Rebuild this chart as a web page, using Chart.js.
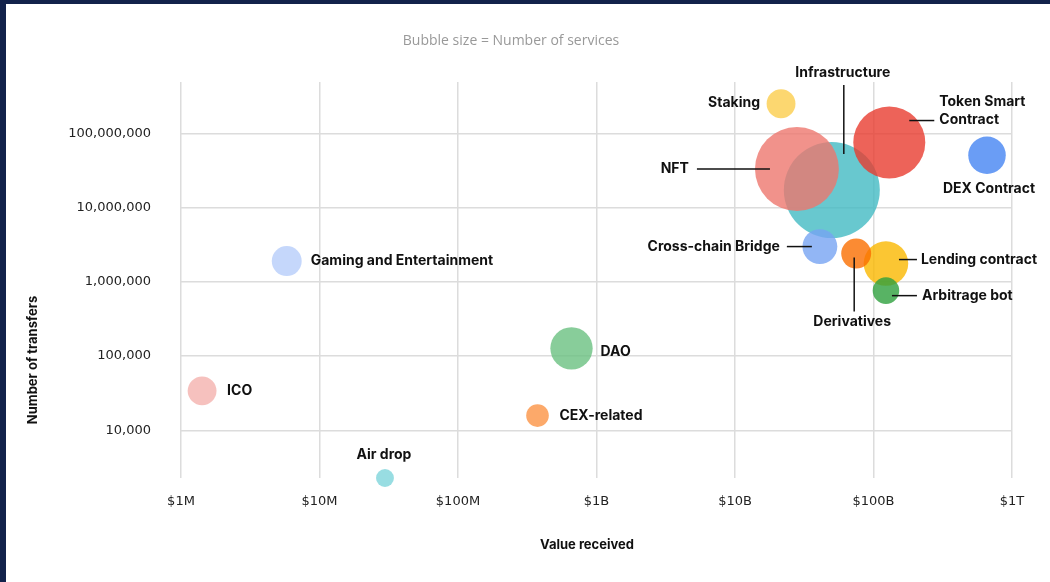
<!DOCTYPE html>
<html>
<head>
<meta charset="utf-8">
<script src="https://cdn.jsdelivr.net/npm/chart.js@4"></script>
<style>
  html, body { margin: 0; padding: 0; background: #fff; }
  .wrap { position: relative; width: 1050px; height: 582px; overflow: hidden; }
  .bar-top { position: absolute; left: 0; top: 0; width: 1050px; height: 4px; background: #12224b; }
  .bar-left { position: absolute; left: 0; top: 0; width: 6px; height: 582px; background: #12224b; }
  canvas { position: absolute; left: 0; top: 0; }
</style>
</head>
<body>
<div class="wrap">
  <canvas id="chart" width="1050" height="582"></canvas>
  <div class="bar-top"></div>
  <div class="bar-left"></div>
</div>
<script>
// categories and values
const categories = ['Infrastructure', 'NFT', 'Token Smart Contract', 'Staking', 'DEX Contract',
  'Cross-chain Bridge', 'Lending contract', 'Derivatives', 'Arbitrage bot',
  'Gaming and Entertainment', 'DAO', 'ICO', 'CEX-related', 'Air drop'];
const valueReceived = [5.0e10, 2.8e10, 1.3e11, 2.15e10, 6.6e11, 4.1e10, 1.23e11, 7.5e10, 1.23e11,
  5.8e6, 6.6e8, 1.42e6, 3.75e8, 2.97e7];
const transfers = [1.72e7, 3.3e7, 7.5e7, 2.5e8, 5.06e7, 2.98e6, 1.76e6, 2.4e6, 7.6e5,
  1.9e6, 1.27e5, 3.4e4, 1.58e4, 2280];
const services = [144, 110, 81, 13, 22, 19, 31, 14, 11, 14, 28, 13, 8, 5];

const xTickValues = [1e6, 1e7, 1e8, 1e9, 1e10, 1e11, 1e12];
const xTickLabels = ['$1M', '$10M', '$100M', '$1B', '$10B', '$100B', '$1T'];
const yTickValues = [1e4, 1e5, 1e6, 1e7, 1e8];
const yTickLabels = ['10,000', '100,000', '1,000,000', '10,000,000', '100,000,000'];

const colors = [
  'rgba(66,186,195,0.8)', 'rgba(238,119,110,0.8)', 'rgba(232,60,48,0.8)', 'rgba(251,205,76,0.8)',
  'rgba(69,133,243,0.8)', 'rgba(119,164,243,0.8)', 'rgba(250,184,0,0.8)', 'rgba(250,110,0,0.8)',
  'rgba(46,160,61,0.8)', 'rgba(183,205,250,0.8)', 'rgba(106,193,129,0.8)', 'rgba(244,177,174,0.8)',
  'rgba(251,148,69,0.8)', 'rgba(126,212,219,0.8)'
];

// label placement relative to bubble centre: [dx, dy, align, leader line or null]
const labelLayout = [
  [11, -117, 'center', [12, -105, 12, -36]],
  [-108, 0, 'right', [-100, 0, -27, 0]],
  [50, -32, 'left', [20, -22, 45, -22]],
  [-21, -1, 'right', null],
  [2, 34, 'center', null],
  [-40, 0, 'right', [-33, 0, -8, 0]],
  [35, -4, 'left', [13, -4, 31, -4]],
  [-4, 68, 'center', [-2, 4, -2, 58]],
  [36, 5, 'left', [6, 5, 31, 5]],
  [24, 0, 'left', null],
  [29, 3, 'left', null],
  [25, 0, 'left', null],
  [22, 0, 'left', null],
  [-1, -23, 'center', null]
];

const labelFont = 'bold 14px Inter';

const bubbleLabels = {
  id: 'bubbleLabels',
  afterDatasetsDraw(chart) {
    const ctx = chart.ctx;
    const meta = chart.getDatasetMeta(0);
    ctx.save();
    ctx.fillStyle = '#111';
    ctx.strokeStyle = '#111';
    ctx.lineWidth = 1.5;
    ctx.font = labelFont;
    ctx.textBaseline = 'middle';
    meta.data.forEach((el, i) => {
      const [dx, dy, align, line] = labelLayout[i];
      if (line) {
        ctx.beginPath();
        ctx.moveTo(el.x + line[0], el.y + line[1]);
        ctx.lineTo(el.x + line[2], el.y + line[3]);
        ctx.stroke();
      }
      ctx.textAlign = align;
      if (categories[i] === 'Token Smart Contract') {
        ctx.fillText('Token Smart', el.x + dx, el.y + dy - 9);
        ctx.fillText('Contract', el.x + dx, el.y + dy + 9);
      } else {
        ctx.fillText(categories[i], el.x + dx, el.y + dy);
      }
    });

    // titles
    ctx.font = 'bold 13px Inter';
    ctx.textAlign = 'center';
    ctx.fillText('Value received', 587, 545);
    ctx.save();
    ctx.translate(33, 360);
    ctx.rotate(-Math.PI / 2);
    ctx.fillText('Number of transfers', 0, 0);
    ctx.restore();

    ctx.font = '14px "Open Sans"';
    ctx.fillStyle = '#999';
    ctx.fillText('Bubble size = Number of services', 511, 41);
    ctx.restore();
  }
};

new Chart(document.getElementById('chart'), {
  type: 'bubble',
  data: {
    datasets: [{
      data: categories.map((c, i) => ({ x: valueReceived[i], y: transfers[i], r: 4 * Math.sqrt(services[i]) })),
      backgroundColor: colors,
      borderWidth: 0,
      hoverBorderWidth: 0,
      clip: false
    }]
  },
  options: {
    responsive: false,
    animation: false,
    layout: { autoPadding: false, padding: { left: 0, right: 38, top: 82, bottom: 64 } },
    plugins: {
      legend: { display: false },
      tooltip: { enabled: false }
    },
    scales: {
      x: {
        type: 'logarithmic',
        min: 1e6,
        max: 1e12,
        afterBuildTicks: (scale) => { scale.ticks = xTickValues.map(v => ({ value: v })); },
        afterFit: (scale) => { scale.height = 40; },
        ticks: {
          padding: 16,
          color: '#222',
          font: { family: 'DejaVu Sans', size: 13 },
          maxRotation: 0,
          callback: (v) => xTickLabels[xTickValues.indexOf(v)]
        },
        grid: { color: '#dcdcdc', lineWidth: 1.5, drawTicks: false },
        border: { display: false }
      },
      y: {
        type: 'logarithmic',
        min: 2280,
        max: 4.9e8,
        afterBuildTicks: (scale) => { scale.ticks = yTickValues.map(v => ({ value: v })); },
        afterFit: (scale) => { scale.width = 181; },
        ticks: {
          padding: 30,
          color: '#222',
          font: { family: 'DejaVu Sans', size: 13 },
          callback: (v) => yTickLabels[yTickValues.indexOf(v)]
        },
        grid: { color: '#dcdcdc', lineWidth: 1.5, drawTicks: false },
        border: { display: false }
      }
    }
  },
  plugins: [bubbleLabels]
});
</script>
</body>
</html>
